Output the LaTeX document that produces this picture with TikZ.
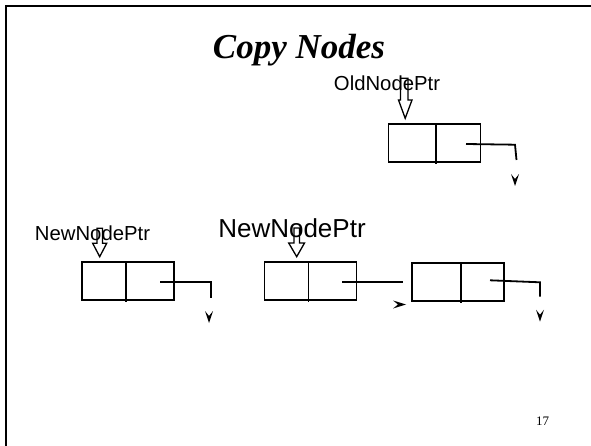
\documentclass[tikz,border=0pt]{standalone}
\usepackage{fontspec}
\setmainfont{Liberation Serif}
\newfontfamily\arialf{Liberation Sans}
\begin{document}
\begin{tikzpicture}[x=1pt,y=-1pt,
  cellbox/.style={draw, line width=1.8pt, minimum width=92pt, minimum height=38pt, inner sep=0pt, outer sep=0pt},
  link/.style={draw, line width=1.8pt},
  framel/.style={draw, line width=2pt},
  lbl/.style={anchor=base, inner sep=0pt, font=\arialf\fontsize{20.3}{24}\selectfont},
  hollow/.style={draw, line width=1.3pt, line join=miter},
  headdown/.pic={\fill (0,0) -- (-4,-12) -- (0,-7) -- (4,-12) -- cycle;},
  headright/.pic={\fill (0,0) -- (-13,-4) -- (-8,0) -- (-13,4) -- cycle;}
]
\useasboundingbox (0,0) rectangle (591,446);
% frame
\draw[framel] (5.8,446) -- (5.8,6.3) -- (591,6.3);
% title
\node[anchor=base, inner sep=0pt, font=\bfseries\itshape\fontsize{35}{40}\selectfont] (title) at (299,59) {Copy Nodes};
% labels
\node[lbl] (oldlbl) at (387,90.7) {OldNodePtr};
\node[lbl] (newlbl) at (92.5,240.7) {NewNodePtr};
\node[lbl, font=\arialf\fontsize{26}{30}\selectfont] (newbig) at (292,237) {NewNodePtr};
% boxes
\node[cellbox] (old) at (434.5,143) {};
\node[cellbox] (nA) at (128.2,281.2) {};
\node[cellbox] (nB) at (310.5,281.3) {};
\node[cellbox] (nC) at (458.3,281.7) {};
% dividers
\draw[link] ([xshift=47.7pt]old.north west) -- ([xshift=47.7pt,yshift=-2pt]old.south west);
\draw[link] ([xshift=43.8pt]nA.north west) -- ([xshift=43.8pt,yshift=-2pt]nA.south west);
\draw[link] ([xshift=44pt]nB.north west) -- ([xshift=44pt,yshift=-2pt]nB.south west);
\draw[link] ([xshift=48.4pt]nC.north west) -- ([xshift=48.4pt,yshift=-2pt]nC.south west);
% pointer ends
\coordinate (oS) at (466,144);
\coordinate (oE) at (516.5,160);
\coordinate (aS) at (160,281.7);
\coordinate (aE) at (210.7,298.3);
\coordinate (bS) at (342,282);
\coordinate (bE) at (403.3,282);
\coordinate (cS) at (490,280.3);
\coordinate (cE) at (540,296.7);
\draw[link] (oS) -- (515,144.7) -- (oE);
\draw[link] (aS) -| (aE);
\draw[link] (bS) -- (bE);
\draw[link] (cS) -- (540,282.3) -- (cE);
% arrowheads
\pic at (515,186) {headdown};
\pic at (209,323) {headdown};
\pic at (406,304.5) {headright};
\pic at (540,321.7) {headdown};
% hollow pointer arrows
\draw[hollow] (400.5,78.3) -- (400.5,100) -- (398.5,100) -- (405.2,118.3) -- (412,100) -- (408,100) -- (408,78.3) -- cycle;
\draw[hollow] (97,228.3) -- (97,243.3) -- (92.7,243.3) -- (99.7,256.7) -- (106.7,243.3) -- (102.4,243.3) -- (102.4,228.3) -- cycle;
\draw[hollow] (294,228) -- (294,243) -- (288.7,243) -- (296.7,256.7) -- (304.5,243) -- (299.4,243) -- (299.4,228) -- cycle;
% page number
\node[anchor=base, inner sep=0pt, font=\fontsize{13}{15}\selectfont] (pg) at (542.5,425.7) {17};
\end{tikzpicture}
\end{document}
